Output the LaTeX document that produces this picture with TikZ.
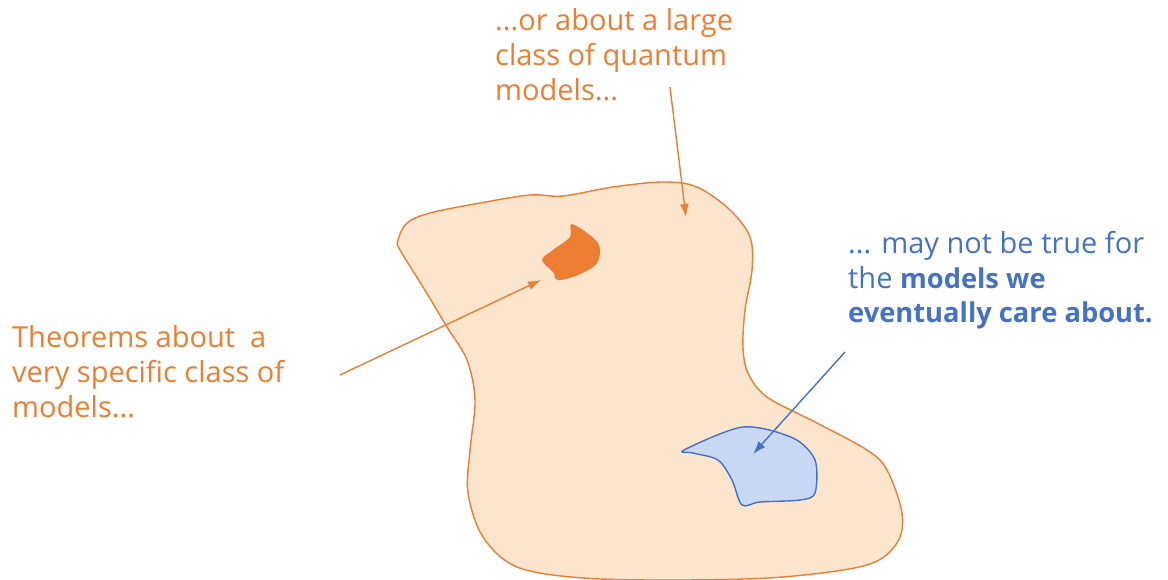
\documentclass[tikz,border=0pt]{standalone}
\usepackage{fontspec}
\setmainfont{Open Sans}
\definecolor{orng}{HTML}{ED7D31}
\definecolor{peach}{HTML}{FBE5CD}
\definecolor{blu}{HTML}{4472C4}
\definecolor{lblu}{HTML}{C9D9F5}
\usetikzlibrary{arrows.meta}
\newcommand{\bfx}[1]{{\fontsize{27.3}{35}\selectfont\bfseries #1}}
\begin{document}
\begin{tikzpicture}[x=1pt,y=-1pt,
  lbl/.style={inner sep=0pt,align=left,anchor=base west,font=\fontsize{29}{35}\selectfont},
  arr/.style={line width=1.4pt,-{Latex[length=13pt,width=9pt]}}]
\useasboundingbox (0,0) rectangle (1168,580);
% big blob
\draw[orng,fill=peach,line width=1.4pt] plot[smooth cycle,tension=0.55] coordinates{
 (398,240) (407,223) (430,213) (480,203) (530,195) (563,196) (613,187) (663,182)
 (697,187) (730,210) (750,237) (752,270) (745,310) (743,347) (748,373) (767,397)
 (817,423) (867,450) (887,470) (902,513) (897,543) (867,565) (783,577) (683,580)
 (583,578) (517,567) (483,537) (468,493) (470,450) (475,400) (467,360) (447,327)
 (423,287) (400,250)};
% small orange blob
\fill[orng] plot[smooth cycle,tension=0.55] coordinates{
 (572,224) (598,243) (597,263) (578,275) (558,280) (553,272) (542,260) (553,250) (570,237)};
% blue blob
\draw[blu,fill=lblu,line width=1.4pt] plot[smooth cycle,tension=0.5] coordinates{
 (684,450) (743,427) (793,438) (815,460) (815,493) (800,500) (760,502) (742,505)
 (732,480) (718,460) (693,453)};
% texts
\node[lbl,text=orng] (top) at (495,101) {...or about a large\\class of quantum\\models...};
\node[lbl,text=orng] (left) at (12,417) {Theorems about\ \ a\\very specific class of\\models...};
\node[lbl,text=blu] (right) at (848,323) {... may not be true for\\the \bfx{models we}\\\bfx{eventually care about.}};
\coordinate (t1) at (670,87); \coordinate (t2) at (686,217);
\coordinate (l1) at (340,375); \coordinate (l2) at (541,280);
\coordinate (r1) at (845,352); \coordinate (r2) at (753,454);
\draw[arr,orng] (t1) -- (t2);
\draw[arr,orng] (l1) -- (l2);
\draw[arr,blu] (r1) -- (r2);
\end{tikzpicture}
\end{document}
